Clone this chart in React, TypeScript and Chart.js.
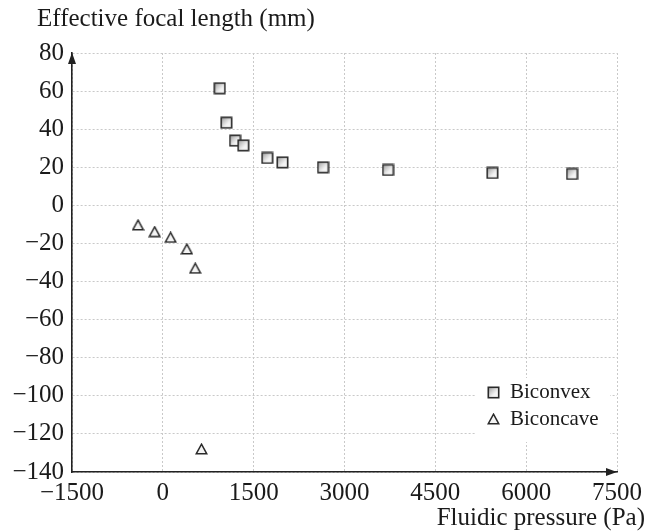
import React, { useEffect, useRef } from 'react';
import { Chart, registerables } from 'chart.js';

Chart.register(...registerables);

// ---- data ----
const xTicks = [-1500, 0, 1500, 3000, 4500, 6000, 7500];
const yTicks = [-140, -120, -100, -80, -60, -40, -20, 0, 20, 40, 60, 80];
const seriesNames = ['Biconvex', 'Biconcave'];
const biconvexPressure = [939, 1049, 1192, 1329, 1724, 1975, 2645, 3719, 5441, 6757];
const biconvexFocal = [61.5, 43.4, 34.0, 31.5, 24.9, 22.6, 20.0, 18.6, 17.0, 16.5];
const biconcavePressure = [-410, -135, 128, 396, 535, 638];
const biconcaveFocal = [-10.3, -13.8, -16.8, -22.9, -33.0, -127.9];
const yAxisTitle = 'Effective focal length (mm)';
const xAxisTitle = 'Fluidic pressure (Pa)';

const FONT_FAMILY = "'Liberation Serif', 'Times New Roman', serif";
const TEXT_COLOR = '#1a1a1a';
const AXIS_COLOR = '#222222';

function fmt(v: number | string): string {
  const n = Number(v);
  return n < 0 ? '\u2212' + String(Math.abs(n)) : String(n);
}

function makeSquare(): HTMLCanvasElement {
  const c = document.createElement('canvas');
  const s = 13;
  c.width = s;
  c.height = s;
  const g = c.getContext('2d')!;
  const grad = g.createLinearGradient(1, 1, s - 1, s - 1);
  grad.addColorStop(0, '#9a9a9a');
  grad.addColorStop(0.6, '#f2f2f2');
  grad.addColorStop(1, '#ffffff');
  g.fillStyle = grad;
  g.fillRect(1, 1, s - 2, s - 2);
  g.strokeStyle = '#2a2a2a';
  g.lineWidth = 1.6;
  g.strokeRect(1.3, 1.3, s - 2.6, s - 2.6);
  return c;
}

function makeTriangle(): HTMLCanvasElement {
  const c = document.createElement('canvas');
  const w = 13;
  const h = 12;
  c.width = w;
  c.height = h;
  const g = c.getContext('2d')!;
  g.beginPath();
  g.moveTo(w / 2, 1.2);
  g.lineTo(w - 1.2, h - 1.2);
  g.lineTo(1.2, h - 1.2);
  g.closePath();
  g.fillStyle = '#f4f4f4';
  g.fill();
  g.strokeStyle = '#2a2a2a';
  g.lineWidth = 1.5;
  g.lineJoin = 'miter';
  g.stroke();
  return c;
}

export default function App() {
  const ref = useRef<HTMLCanvasElement | null>(null);

  useEffect(() => {
    document.body.style.margin = '0';
    const canvas = ref.current;
    if (!canvas) return;
    const square = makeSquare();
    const triangle = makeTriangle();
    const markers = [square, triangle];

    const decor = {
      id: 'decor',
      beforeDatasetsDraw(chart: any) {
        const ctx = chart.ctx as CanvasRenderingContext2D;
        const { right, bottom } = chart.chartArea;
        ctx.save();
        // legend background
        ctx.fillStyle = '#ffffff';
        ctx.fillRect(right - 141, bottom - 94, 134, 64);
        ctx.restore();
      },
      afterDraw(chart: any) {
        const ctx = chart.ctx as CanvasRenderingContext2D;
        const { left, right, top, bottom } = chart.chartArea;
        ctx.save();
        // arrows
        ctx.fillStyle = AXIS_COLOR;
        ctx.beginPath();
        ctx.moveTo(left, top - 0.5);
        ctx.lineTo(left + 4, top + 11);
        ctx.lineTo(left - 4, top + 11);
        ctx.closePath();
        ctx.fill();
        ctx.beginPath();
        ctx.moveTo(right, bottom);
        ctx.lineTo(right - 11, bottom - 4);
        ctx.lineTo(right - 11, bottom + 4);
        ctx.closePath();
        ctx.fill();

        // titles
        ctx.fillStyle = TEXT_COLOR;
        ctx.font = `25px ${FONT_FAMILY}`;
        ctx.textBaseline = 'alphabetic';
        ctx.textAlign = 'left';
        ctx.fillText(yAxisTitle, left - 35, top - 27);
        ctx.textAlign = 'right';
        ctx.fillText(xAxisTitle, chart.width - 3, chart.height - 7);

        // legend
        ctx.font = `21px ${FONT_FAMILY}`;
        ctx.textAlign = 'left';
        const lx = right - 124;
        const rows = [bottom - 80, bottom - 53];
        seriesNames.forEach((name, i) => {
          const m = markers[i];
          ctx.drawImage(m, Math.round(lx - m.width / 2), Math.round(rows[i] - m.height / 2));
          ctx.fillText(name, lx + 17, rows[i] + 6);
        });
        ctx.restore();
      },
    };

    const tickFont = { family: FONT_FAMILY, size: 25 };

    const chart = new Chart(canvas, {
      type: 'scatter',
      data: {
        datasets: [
          {
            label: seriesNames[0],
            data: biconvexPressure.map((x, i) => ({ x, y: biconvexFocal[i] })),
            pointStyle: square as any,
            pointRadius: 7,
            pointHoverRadius: 7,
            showLine: false,
          },
          {
            label: seriesNames[1],
            data: biconcavePressure.map((x, i) => ({ x, y: biconcaveFocal[i] })),
            pointStyle: triangle as any,
            pointRadius: 7,
            pointHoverRadius: 7,
            showLine: false,
          },
        ],
      },
      options: {
        responsive: false,
        animation: false,
        devicePixelRatio: 1,
        events: [],
        layout: { padding: { top: 53, right: 29, left: 0, bottom: 0 } },
        plugins: {
          legend: { display: false },
          tooltip: { enabled: false },
          title: { display: false },
        },
        scales: {
          x: {
            type: 'linear',
            min: xTicks[0],
            max: xTicks[xTicks.length - 1],
            afterBuildTicks: (s: any) => {
              s.ticks = xTicks.map((v) => ({ value: v }));
            },
            ticks: {
              autoSkip: false,
              maxRotation: 0,
              padding: 6,
              font: tickFont,
              color: TEXT_COLOR,
              callback: (v: any) => fmt(v),
            },
            grid: { color: '#c9c9c9', lineWidth: 1, drawTicks: false },
            border: { color: AXIS_COLOR, width: 1.6, dash: [2, 2] },
            afterFit: (s: any) => {
              s.height = 60;
            },
          },
          y: {
            type: 'linear',
            min: yTicks[0],
            max: yTicks[yTicks.length - 1],
            afterBuildTicks: (s: any) => {
              s.ticks = yTicks.map((v) => ({ value: v }));
            },
            ticks: {
              autoSkip: false,
              padding: 8,
              font: tickFont,
              color: TEXT_COLOR,
              callback: (v: any) => fmt(v),
            },
            grid: { color: '#c9c9c9', lineWidth: 1, drawTicks: false },
            border: { color: AXIS_COLOR, width: 1.6, dash: [2, 2] },
            afterFit: (s: any) => {
              s.width = 72;
            },
          },
        },
      } as any,
      plugins: [decor],
    });

    return () => {
      chart.destroy();
    };
  }, []);

  return (
    <div style={{ width: 648, height: 532 }}>
      <canvas ref={ref} width={648} height={532} style={{ display: 'block' }} />
    </div>
  );
}
